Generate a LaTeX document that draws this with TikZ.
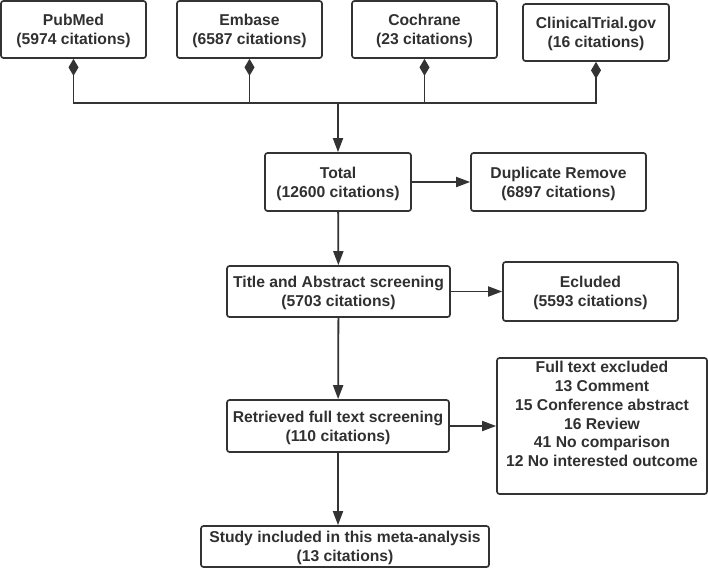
\documentclass[tikz,border=0pt]{standalone}
\usepackage{fontspec}
\setmainfont{Liberation Sans}
\usetikzlibrary{arrows.meta,positioning,calc}
\definecolor{FlowLine}{HTML}{333333}
\definecolor{FlowText}{HTML}{303030}

\begin{document}
\begin{tikzpicture}[x=1pt,y=-1pt,>={Triangle[length=14pt,width=10pt]},
    box/.style={draw=FlowLine,line width=1.7pt,rounded corners=2.5pt,
      text=FlowText,align=center,inner sep=2pt,text depth=-5pt,
      font=\bfseries\fontsize{15.7}{18.8}\selectfont},
    link/.style={draw=FlowLine,line width=1.8pt},
    src/.style={link,{Diamond[length=17pt,width=10pt]}-}]
  \useasboundingbox (0,0) rectangle (708,568);
  % sources
  \node[box,minimum width=145pt,minimum height=57pt] (pubmed) at (73.5,29.5)
        {PubMed\\(5974 citations)};
  \node[box,minimum width=145pt,minimum height=57pt] (embase) at (249.5,29.5)
        {Embase\\(6587 citations)};
  \node[box,minimum width=145pt,minimum height=57pt] (cochrane) at (424.5,29.5)
        {Cochrane\\(23 citations)};
  \node[box,minimum width=146pt,minimum height=57pt] (trials) at (596,32.5)
        {ClinicalTrial.gov\\(16 citations)};
  \coordinate (merge) at (338,103);
  % screening stages
  \node[box,minimum width=146pt,minimum height=58pt] (total) at (338,182)
        {Total\\(12600 citations)};
  \node[box,minimum width=175pt,minimum height=58pt] (dupl) at (558.5,182)
        {Duplicate Remove\\(6897 citations)};
  \node[box,minimum width=223pt,minimum height=51pt] (title) at (338.5,291.5)
        {Title and Abstract screening\\(5703 citations)};
  \node[box,minimum width=175pt,minimum height=59pt] (excl) at (590.5,291.5)
        {Ecluded\\(5593 citations)};
  \node[box,minimum width=222pt,minimum height=52pt] (full) at (338,426)
        {Retrieved full text screening\\(110 citations)};
  \node[box,minimum width=210pt,minimum height=136pt] (fullexcl) at (602,426)
        {Full text excluded\\13 Comment\\15 Conference abstract\\16 Review\\
         41 No comparison\\12 No interested outcome\\[5pt]\mbox{}};
  \node[box,minimum width=288pt,minimum height=41pt] (study) at (345,546.5)
        {Study included in this meta-analysis\\(13 citations)};
  % connectors
  \draw[src] (pubmed.south) |- (merge);
  \draw[src] (embase.south) |- (merge);
  \draw[src] (cochrane.south) |- (merge);
  \draw[src] (trials.south) |- (merge);
  \draw[link,->] (merge) -- (total);
  \draw[link,->] (total) -- (dupl);
  \draw[link,->] (total) -- (title);
  \draw[link,->] (title) -- (excl);
  \draw[link,->] (title) -- (full);
  \draw[link,->] (full) -- (fullexcl);
  \draw[link,->] (full.south) -- (full.south |- study.north);
\end{tikzpicture}
\end{document}
